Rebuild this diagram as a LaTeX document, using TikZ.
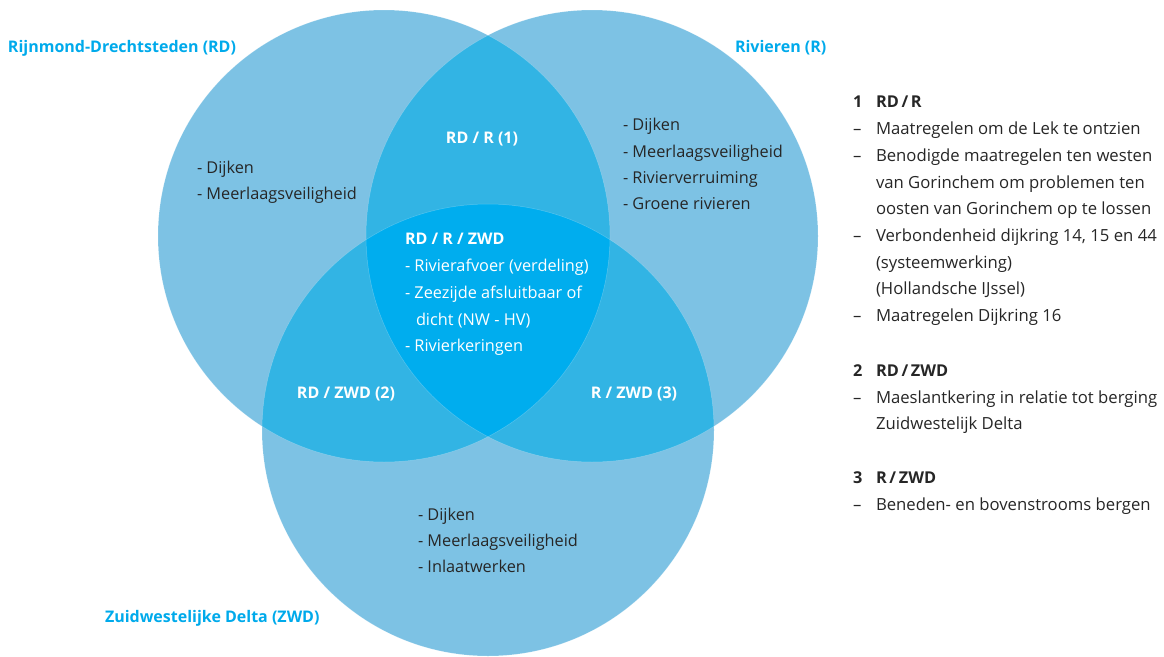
\documentclass[tikz,border=0pt]{standalone}
\usepackage{fontspec}
\setmainfont{Open Sans}

\definecolor{vennlight}{RGB}{125,194,228}
\definecolor{vennmid}{RGB}{50,180,228}
\definecolor{venndark}{RGB}{0,173,238}
\definecolor{setblue}{RGB}{0,170,235}
\definecolor{textdark}{RGB}{38,38,38}

\begin{document}
\begin{tikzpicture}[%
        x = 1pt,
        y = -1pt,
        every node/.style = {inner sep = 0pt, outer sep = 0pt,
            font = \fontsize{16.3}{20}\selectfont},
        itemtext/.style = {anchor = base west, text = textdark},
        legendtext/.style = {anchor = base west, text = textdark,
            font = \fontsize{16.7}{20}\selectfont},
        insidetext/.style = {anchor = base west, text = white},
        setlabel/.style = {anchor = base west, text = setblue,
            font = \fontsize{16}{20}\selectfont\bfseries},
        pairlabel/.style = {anchor = base, text = white,
            font = \fontsize{16}{20}\selectfont\bfseries},
        headtext/.style = {anchor = base west, text = textdark,
            font = \fontsize{16.3}{20}\selectfont\bfseries}
    ]

        \useasboundingbox (0, 0) rectangle (1164, 656);

        % Centres of the three sets.
        \coordinate (rd) at (384, 236);
        \coordinate (r) at (592, 236);
        \coordinate (zwd) at (488, 430);

        % Draw the circles.
        \fill[vennlight] (rd) circle [radius = 226pt];
        \fill[vennlight] (r) circle [radius = 226pt];
        \fill[vennlight] (zwd) circle [radius = 226pt];

        % Overlaps of two sets.
        \begin{scope}
            \clip (rd) circle [radius = 226pt];
            \fill[vennmid] (r) circle [radius = 226pt];
            \fill[vennmid] (zwd) circle [radius = 226pt];
        \end{scope}
        \begin{scope}
            \clip (r) circle [radius = 226pt];
            \fill[vennmid] (zwd) circle [radius = 226pt];
        \end{scope}

        % Overlap of all three.
        \begin{scope}
            \clip (rd) circle [radius = 226pt];
            \clip (r) circle [radius = 226pt];
            \fill[venndark] (zwd) circle [radius = 226pt];
        \end{scope}

        % Faint edges.
        \begin{scope}[draw = white, opacity = 0.25, line width = 0.5pt]
            \draw (rd) circle [radius = 226pt];
            \draw (r) circle [radius = 226pt];
            \draw (zwd) circle [radius = 226pt];
        \end{scope}

        % Set names.
        \node[setlabel] (rd-name) at (8, 52) {Rijnmond-Drechtsteden (RD)};
        \node[setlabel] (r-name) at (735, 52) {Rivieren (R)};
        \node[setlabel] (zwd-name) at (105, 622) {Zuidwestelijke Delta (ZWD)};

        % Items in one set.
        \foreach\y/\t in {173/Dijken, 199/Meerlaagsveiligheid}{%
            \node[itemtext] (rd-\y) at (197, \y) {- \t};
        }
        \foreach\y/\t in {130/Dijken, 157/Meerlaagsveiligheid,
                183/Rivierverruiming, 209/Groene rivieren}{%
            \node[itemtext] (r-\y) at (623, \y) {- \t};
        }
        \foreach\y/\t in {520/Dijken, 546/Meerlaagsveiligheid,
                572/Inlaatwerken}{%
            \node[itemtext] (zwd-\y) at (418, \y) {- \t};
        }

        % Overlaps.
        \node[pairlabel] (rd-r) at (482, 143) {RD / R (1)};
        \node[pairlabel] (rd-zwd) at (346, 398) {RD / ZWD (2)};
        \node[pairlabel] (r-zwd) at (634, 398) {R / ZWD (3)};

        \node[insidetext, font = \fontsize{16}{20}\selectfont\bfseries]
            (all) at (405, 244) {RD / R / ZWD};
        \node[insidetext] (all-1) at (405, 271) {- Rivierafvoer (verdeling)};
        \node[insidetext] (all-2) at (405, 298) {- Zeezijde afsluitbaar of};
        \node[insidetext] (all-3) at (416, 325) {dicht (NW - HV)};
        \node[insidetext] (all-4) at (405, 351) {- Rivierkeringen};

        % Legend on the right.
        \node[headtext] (head-1) at (853, 107) {1};
        \node[headtext] (head-1t) at (876, 107) {RD\,/\,R};
        \foreach\y/\t in {134/Maatregelen om de Lek te ontzien,
                161/Benodigde maatregelen ten westen,
                241/{Verbondenheid dijkring 14, 15 en 44},
                321/Maatregelen Dijkring 16}{%
            \node[legendtext] (dash-\y) at (853, \y) {--};
            \node[legendtext] (item-\y) at (876, \y) {\t};
        }
        \foreach\y/\t in {188/van Gorinchem om problemen ten,
                214/oosten van Gorinchem op te lossen,
                268/(systeemwerking),
                294/(Hollandsche IJssel)}{%
            \node[legendtext] (item-\y) at (876, \y) {\t};
        }

        \node[headtext] (head-2) at (853, 376) {2};
        \node[headtext] (head-2t) at (876, 376) {RD\,/\,ZWD};
        \node[legendtext] (dash-403) at (853, 403) {--};
        \node[legendtext] (item-403) at (876, 403) {Maeslantkering in relatie tot berging};
        \node[legendtext] (item-429) at (876, 429) {Zuidwestelijk Delta};

        \node[headtext] (head-3) at (853, 483) {3};
        \node[headtext] (head-3t) at (876, 483) {R\,/\,ZWD};
        \node[legendtext] (dash-510) at (853, 510) {--};
        \node[legendtext] (item-510) at (876, 510) {Beneden- en bovenstrooms bergen};
    \end{tikzpicture}
\end{document}
